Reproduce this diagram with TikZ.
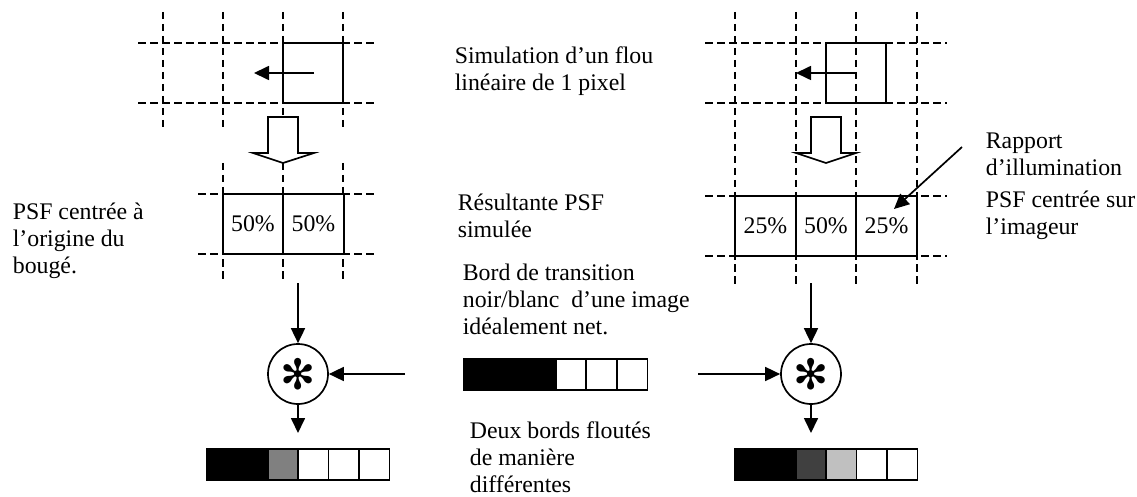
\documentclass[tikz,border=0pt]{standalone}
\usepackage{fontspec}
\setmainfont{Liberation Serif}
\newfontfamily\symbfont{DejaVu Sans}
\usetikzlibrary{arrows.meta, positioning}
\definecolor{gmid}{HTML}{808080}
\definecolor{gdark}{HTML}{404040}
\definecolor{glight}{HTML}{C0C0C0}
\tikzset{
  every picture/.style={line width=1.7pt, x=1pt, y=-1pt},
  grid/.style={line width=1.4pt, dash pattern=on 7.5pt off 4.5pt},
  cell/.style={draw, fill=white, minimum width=60.5pt, minimum height=60.5pt, inner sep=0pt, outer sep=0pt, font=\fontsize{23.8}{27}\selectfont},
  frame/.style={draw, minimum width=60.5pt, minimum height=60.5pt, inner sep=0pt, outer sep=0pt},
  pix/.style={draw, fill=#1, minimum width=30.4pt, minimum height=31pt, inner sep=0pt, outer sep=0pt},
  arrow/.style={-{Triangle[length=15pt, width=14pt]}},
  conv/.style={draw, circle, minimum size=60pt, inner sep=0pt, font=\symbfont\fontsize{42}{42}\selectfont},
  hollow/.style={draw, fill=white, line width=1.7pt},
  txt/.style={anchor=north west, inner sep=0pt, align=left, font=\fontsize{23.8}{26.8}\selectfont},
}

\begin{document}
\begin{tikzpicture}
  \useasboundingbox (0,0) rectangle (1137,497);
  % left column: blur centred on the origin of the motion
  \foreach \x in {163,223,343} \draw[grid] (\x,12) -- (\x,130);
  \draw[grid] (283,12) -- (283,125);
  \foreach \y in {43,103} \draw[grid] (138,\y) -- (375,\y);
  \node[frame] (pixL) at (313,73) {};
  \coordinate (mvL0) at (314,73); \coordinate (mvL1) at (254,73);
  \draw[arrow] (mvL0) -- (mvL1);
  \draw[hollow] (268,117) -- (298,117) -- (298,153) -- (314,153) -- (283,163) -- (253,153) -- (268,153) -- cycle;
  \foreach \x in {223,283,343} \draw[grid] (\x,163) -- (\x,282);
  \foreach \y in {194,254} \draw[grid] (198,\y) -- (375,\y);
  \node[cell] (psfL1) at (253,224) {50\%};
  \node[cell, right=0pt of psfL1] (psfL2) {50\%};
  \node[conv] (convL) at (298,374) {✻};
  \coordinate (inL) at (298,283); \coordinate (outL) at (298,433); \coordinate (edgeL) at (405,374);
  \draw[arrow] (inL) -- (convL);
  \draw[arrow] (convL) -- (outL);
  \draw[arrow] (edgeL) -- (convL);
  \foreach \c [count=\i] in {black,black,gmid,white,white,white}
    \node[pix=\c] (barL\i) at (207+30.4*\i-15.2,464.5) {};

  % sharp edge in the middle
  \foreach \c [count=\i] in {black,black,black,white,white,white}
    \node[pix=\c] (edge\i) at (464+30.6*\i-15.3,374.5) {};

  % right column: blur centred on the imager
  \foreach \x in {735,796,856,917} \draw[grid] (\x,12) -- (\x,286);
  \foreach \y in {43,103,196,256} \draw[grid] (705,\y) -- (947,\y);
  \node[frame] (pixR) at (856,73) {};
  \coordinate (mvR0) at (856,73); \coordinate (mvR1) at (796,73);
  \draw[arrow] (mvR0) -- (mvR1);
  \draw[hollow] (811,117) -- (841,117) -- (841,153) -- (856,153) -- (826,163) -- (796,153) -- (811,153) -- cycle;
  \node[cell] (psfR1) at (765.5,226) {25\%};
  \node[cell, right=0pt of psfR1] (psfR2) {50\%};
  \node[cell, right=0pt of psfR2] (psfR3) {25\%};
  \node[conv] (convR) at (811,374) {✻};
  \coordinate (inR) at (811,283); \coordinate (outR) at (811,433); \coordinate (edgeR) at (698,374);
  \draw[arrow] (inR) -- (convR);
  \draw[arrow] (convR) -- (outR);
  \draw[arrow] (edgeR) -- (convR);
  \foreach \c [count=\i] in {black,black,gdark,glight,white,white}
    \node[pix=\c] (barR\i) at (735+30.4*\i-15.2,464.5) {};
  \coordinate (rap0) at (962,147); \coordinate (rap1) at (894,209);
  \draw[arrow] (rap0) -- (rap1);

  % texts
  \node[txt] (tSim) at (454,44) {\strut Simulation d’un flou\\linéaire de 1 pixel};
  \node[txt] (tRes) at (457,191) {\strut Résultante PSF\\simulée};
  \node[txt] (tBord) at (462,261) {\strut Bord de transition\\noir/blanc\ \ d’une image\\idéalement net.};
  \node[txt] (tDeux) at (469,419) {\strut Deux bords floutés\\de manière\\différentes};
  \node[txt] (tOrig) at (12,200) {\strut PSF centrée à\\l’origine du\\bougé.};
  \node[txt] (tRap) at (985,129) {\strut Rapport\\d’illumination};
  \node[txt] (tImg) at (985,188) {\strut PSF centrée sur\\l’imageur};
\end{tikzpicture}
\end{document}
